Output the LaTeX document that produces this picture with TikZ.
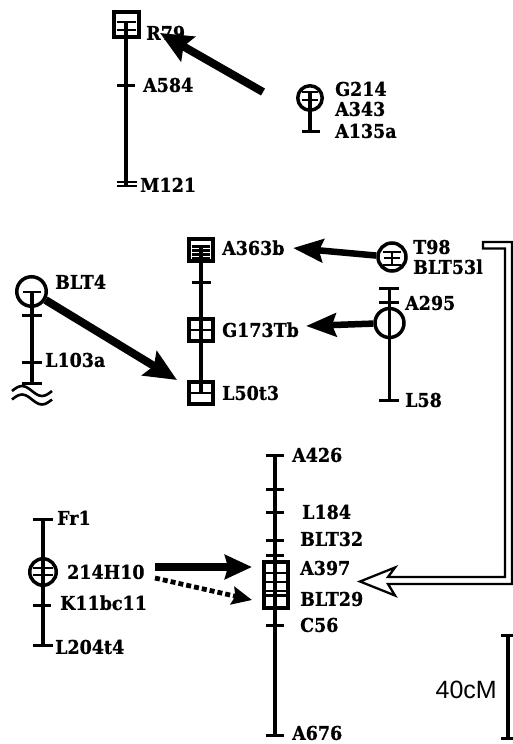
\documentclass[tikz,border=0pt]{standalone}
\usepackage{fontspec}
\setmainfont{DejaVu Serif}[FakeStretch=0.92, BoldFeatures={FakeBold=0.8}]
\newfontfamily\scalelabelfont{Liberation Sans}
\usetikzlibrary{arrows.meta}
\begin{document}
\begin{tikzpicture}[x=1pt,y=-1pt,
  chrom/.style={line width=3.6pt},
  tickmark/.style={line width=3pt},
  inner/.style={line width=2.4pt},
  gbox/.style={draw, line width=4pt, inner sep=0pt, minimum width=24.5pt, minimum height=22.5pt},
  gcirc/.style={draw, circle, line width=3.5pt, inner sep=0pt},
  lab/.style={font=\bfseries\fontsize{19}{22}\selectfont, anchor=west, inner sep=0pt, text height=13.8pt, text depth=0pt},
  bigarrow/.style={line width=8pt, -{Stealth[length=32pt,width=28pt,inset=5pt]}},
  midarrow/.style={line width=6.5pt, -{Stealth[length=30pt,width=23pt,inset=4pt]}},
  lowarrow/.style={line width=7.5pt, -{Stealth[length=27pt,width=24pt,inset=3pt]}},
  dotarrow/.style={line width=4.8pt, dash pattern=on 5pt off 3pt, -{Stealth[length=20pt,width=18pt,inset=3pt]}}
]
\useasboundingbox (0,0) rectangle (513,744);

% ---------- chromosome 1 (top left)
\draw[chrom] (126,21.7) -- (126,186);
\node[gbox, minimum width=25pt, minimum height=25pt] (r79box) at (126.5,24.5) {};
\draw[inner] (117,21.7) -- (136,21.7) (117,30) -- (136,30);
\draw[tickmark] (117,85) -- (135,85);
\draw[inner] (117,182) -- (137,182) (117,186) -- (137,186);
\node[lab] (r79) at (146,33) {R79};
\node[lab] (a584) at (143,85) {A584};
\node[lab] (m121) at (140,185) {M121};

% ---------- G214 group
\node[gcirc, minimum size=24.5pt] (g214c) at (310,98) {};
\draw[inner] (302,92) -- (318,92) (302,100) -- (318,100);
\draw[chrom] (310,92) -- (310,131.5);
\draw[tickmark] (302,131.5) -- (320,131.5);
\node[lab] (g214) at (335,89) {G214};
\node[lab] (a343) at (335,109) {A343};
\node[lab] (a135a) at (335,131) {A135a};

\coordinate (a1tail) at (263,92);
\coordinate (a1tip) at (160,33);
\draw[bigarrow] (a1tail) -- (a1tip);

% ---------- chromosome 2 (middle)
\draw[chrom] (201,247) -- (201,393);
\node[gbox] (a363box) at (201,250) {};
\draw[inner] (192,246.5) -- (210,246.5) (192,250.5) -- (210,250.5)
             (192,254.5) -- (210,254.5) (192,258.5) -- (210,258.5);
\draw[tickmark] (192,282) -- (211,282);
\node[gbox] (g173box) at (201,330) {};
\draw[inner] (190,330) -- (212,330);
\node[gbox] (l50box) at (201,393) {};
\draw[inner] (190,393) -- (212,393);
\node[lab] (a363b) at (222,248) {A363b};
\node[lab] (g173tb) at (222,330) {G173Tb};
\node[lab] (l50t3) at (222,393) {L50t3};

% ---------- T98 group
\node[gcirc, minimum size=28pt] (t98c) at (392,257) {};
\draw[inner] (383,252) -- (401,252) (384,258) -- (400,258) (383,265) -- (401,265);
\draw[inner] (392,252) -- (392,265);
\node[lab] (t98) at (413,247) {T98};
\node[lab] (blt53l) at (413,267) {BLT53l};
\coordinate (a2tip) at (293,248);
\draw[midarrow] (t98c) -- (a2tip);

% ---------- A295 chromosome
\draw[chrom] (389.5,288) -- (389.5,400);
\draw[tickmark] (379,288) -- (399,288) (379,302) -- (399,302) (379,400) -- (399,400);
\node[gcirc, minimum size=29pt] (a295c) at (389.5,323) {};
\node[lab] (a295) at (405,303) {A295};
\node[lab] (l58) at (405,400) {L58};
\coordinate (a3tip) at (306,326);
\draw[midarrow] (a295c) -- (a3tip);

% ---------- BLT4 chromosome
\node[gcirc, minimum size=29.5pt] (blt4c) at (31.5,291.5) {};
\draw[inner] (23,292) -- (41,292);
\draw[chrom] (32,292) -- (32,384);
\draw[tickmark] (22,315) -- (42,315) (22,362) -- (42,362) (22,383) -- (42,383);
\draw[inner, line width=2.6pt] (12,391) sin (22,386) cos (32,391) sin (42,396) cos (52,391);
\draw[inner, line width=2.6pt] (12,399.5) sin (22,394.5) cos (32,399.5) sin (42,404.5) cos (52,399.5);
\node[lab] (blt4) at (55,282) {BLT4};
\node[lab] (l103a) at (45,360) {L103a};
\coordinate (a4tip) at (177,380);
\draw[bigarrow] (blt4c) -- (a4tip);

% ---------- bottom-left chromosome
\draw[chrom] (43,519) -- (43,645);
\draw[tickmark] (33,519) -- (53,519) (33,605) -- (51,605) (33,645) -- (53,645);
\node[gcirc, minimum size=26.5pt] (h10c) at (43,572) {};
\draw[inner] (33,568) -- (53,568) (33,575) -- (53,575);
\node[lab] (fr1) at (57,518) {Fr1};
\node[lab] (h10) at (67,572) {214H10};
\node[lab] (k11) at (60,603) {K11bc11};
\node[lab] (l204) at (55,647) {L204t4};

% ---------- bottom-center chromosome
\draw[chrom] (275,455) -- (275,735);
\foreach \yy in {455,489,512,540,555,625,735}
  \draw[tickmark] (266,\yy) -- (284,\yy);
\node[gbox, minimum width=24pt, minimum height=46pt] (bigbox) at (275.5,584.5) {};
\draw[inner] (264,573) -- (287,573) (264,582) -- (287,582) (264,591) -- (287,591) (264,595.5) -- (287,595.5);
\node[lab] (a426) at (292,455) {A426};
\node[lab] (l184) at (302,512) {L184};
\node[lab] (blt32) at (300,539) {BLT32};
\node[lab] (a397) at (300,568) {A397};
\node[lab] (blt29) at (300,599) {BLT29};
\node[lab] (c56) at (300,625) {C56};
\node[lab] (a676) at (292,733) {A676};

% arrows from 214H10
\coordinate (a5tail) at (155,567);
\coordinate (a5tip) at (252,567);
\draw[lowarrow] (a5tail) -- (a5tip);
\coordinate (a6tail) at (155,578);
\coordinate (a6tip) at (252,600);
\draw[dotarrow] (a6tail) -- (a6tip);

% ---------- hollow double arrow
\draw[line width=2.3pt, line join=miter]
  (483,242) -- (512,242) -- (512,584) -- (388,584) -- (395,595.5) -- (360,581.5)
  -- (395,567.5) -- (388,577) -- (505,577) -- (505,248.5) -- (483,248.5) -- cycle;

% ---------- scale bar
\draw[line width=4pt] (508,635) -- (508,738);
\draw[tickmark] (501,635) -- (515,635) (501,738) -- (515,738);
\node[font=\scalelabelfont\fontsize{25}{28}\selectfont, anchor=east, inner sep=0pt] (scale) at (497,690) {40cM};
\end{tikzpicture}
\end{document}
